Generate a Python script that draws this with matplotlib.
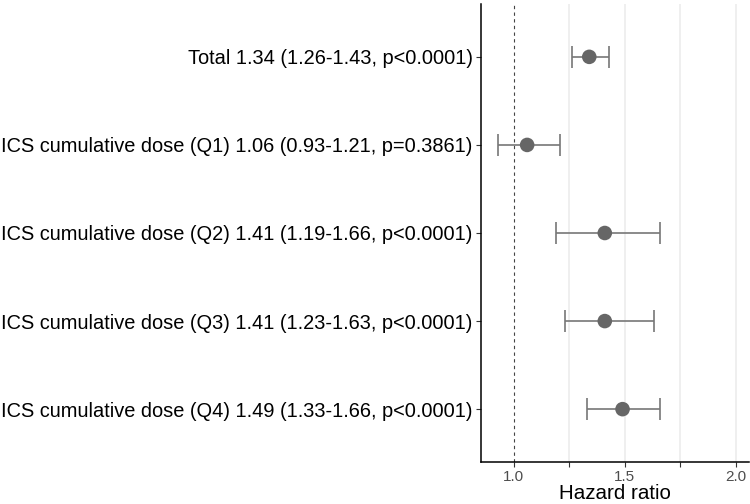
import matplotlib
matplotlib.use("Agg")
import matplotlib.pyplot as plt

labels = [
    "Total 1.34 (1.26-1.43, p<0.0001)",
    "ICS cumulative dose (Q1) 1.06 (0.93-1.21, p=0.3861)",
    "ICS cumulative dose (Q2) 1.41 (1.19-1.66, p<0.0001)",
    "ICS cumulative dose (Q3) 1.41 (1.23-1.63, p<0.0001)",
    "ICS cumulative dose (Q4) 1.49 (1.33-1.66, p<0.0001)",
]
hr = [1.34, 1.06, 1.41, 1.41, 1.49]
lo = [1.26, 0.93, 1.19, 1.23, 1.33]
hi = [1.43, 1.21, 1.66, 1.63, 1.66]

plt.rcParams['font.family'] = ['Liberation Sans', 'DejaVu Sans']

fig = plt.figure(figsize=(7.5, 5.04), dpi=100)
ax = fig.add_axes([481/750, 1 - 462/504, (749-481)/750, (462-4)/504])

n = len(labels)
ys = [n - i for i in range(n)]

for xv in [1.25, 1.5, 1.75, 2.0]:
    ax.axvline(xv, color='#ebebeb', lw=1.1, zorder=0)
ax.axvline(1.0, color='#444444', lw=0.8, ls=(0, (3, 3)), zorder=1)

for y, h, l, u in zip(ys, hr, lo, hi):
    ax.errorbar(h, y, xerr=[[h - l], [u - h]], fmt='none', ecolor='#777777',
                elinewidth=1.2, capsize=8, capthick=1.2, zorder=2)
ax.scatter(hr, ys, s=110, color='#666666', zorder=3, edgecolors='none')

ax.set_ylim(0.4, n + 0.6)
ax.set_xlim(0.852, 2.06)
ax.set_yticks(ys)
ax.set_yticklabels(labels, fontsize=14.4, color='black')
ax.set_xticks([1.0, 1.25, 1.5, 1.75, 2.0])
ax.set_xticklabels(['1.0', '', '1.5', '', '2.0'], fontsize=11, color='#4d4d4d')
ax.tick_params(axis='both', length=3.5, color='#333333', width=0.8)
ax.tick_params(axis='y', pad=2.5)
ax.tick_params(axis='x', pad=2.5)
ax.set_xlabel('Hazard ratio', fontsize=14.8, labelpad=0)

for s in ['top', 'right']:
    ax.spines[s].set_visible(False)
for s in ['left', 'bottom']:
    ax.spines[s].set_linewidth(1.1)
    ax.spines[s].set_color('black')

fig.savefig('out.png', dpi=100)
